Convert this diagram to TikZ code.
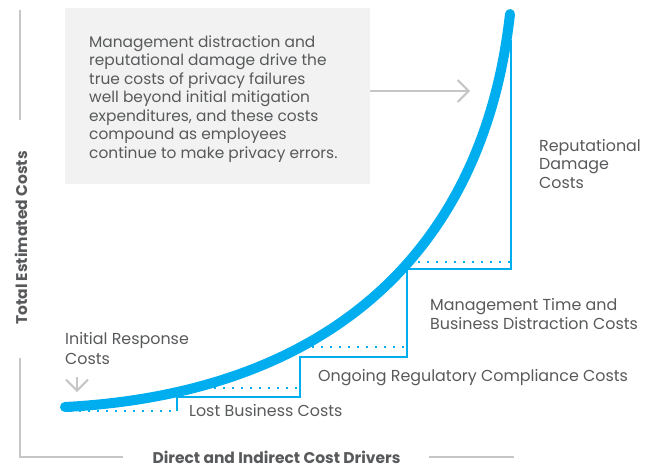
\documentclass[tikz,border=0pt]{standalone}
\usepackage{fontspec}
\setmainfont{Poppins}
\usetikzlibrary{arrows.meta}
\definecolor{costblue}{HTML}{00AEEF}
\definecolor{textgray}{HTML}{58595B}
\definecolor{axisgray}{HTML}{C6C6C6}
\definecolor{boxgray}{HTML}{F2F2F2}

\begin{document}
\begin{tikzpicture}
         [x=1pt,y=-1pt,
          every node/.style={inner sep=0pt,text=textgray,align=left,font=\fontsize{15.9}{19}\selectfont},
          axisline/.style={draw=axisgray,line width=1.5pt},
          stepline/.style={draw=costblue,line width=1.8pt},
          dotline/.style={draw=costblue,line width=2pt,dash pattern=on 2pt off 7pt},
          pointer/.style={draw=axisgray,line width=2pt,-{Straight Barb[length=11pt,width=22pt,line width=2pt]}},
          axislabel/.style={font=\bfseries\fontsize{15.5}{17}\selectfont}]
         \useasboundingbox (0,0) rectangle (652,466);

         % axes
         \draw[axisline] (20,10) -- (20,120);
         \draw[axisline] (20,358) -- (20,457) -- (123,457);
         \draw[axisline] (429,457) -- (514,457);
         \node[axislabel,rotate=90] (nYaxis) at (21,238) {Total Estimated Costs};
         \node[axislabel,anchor=base] (nXaxis) at (276.5,463) {Direct and Indirect Cost Drivers};

         % note box
         \node[fill=boxgray,anchor=north west,minimum width=305pt,minimum height=176pt] (nBox) at (65,8) {};
         \node[anchor=north west,font=\fontsize{15.4}{18.5}\selectfont] (nNote) at (89,35.5)
              {Management distraction and\\reputational damage drive the\\true costs of privacy failures\\well beyond initial mitigation\\expenditures, and these costs\\compound as employees\\continue to make privacy errors.};
         \coordinate (cTip) at (470,91);
         \draw[pointer] (nBox.east |- cTip) -- (cTip);

         % steps
         \draw[stepline] (177,411) -- (177,397) -- (300,397) -- (300,357) -- (407,357) -- (407,269) -- (511,269) -- (511,40);
         \foreach \y/\xa/\xb in {411/70/176,388/205/300,347/312/407,262/418/512}
             \draw[dotline] (\xa,\y) -- (\xb,\y);

         % cost curve
         \draw[costblue,line width=10pt,line cap=round] (65,407) .. controls (315,394) and (482,264) .. (510,14);

         % labels
         \node[anchor=north west,font=\fontsize{15.9}{20}\selectfont] (nInitial) at (65,332) {Initial Response\\Costs};
         \coordinate (cDownTop) at (77,377);
         \coordinate (cDown) at (77,392);
         \draw[pointer] (cDownTop) -- (cDown);
         \node[anchor=base west] (nLost) at (189,416) {Lost Business Costs};
         \node[anchor=base west] (nOngoing) at (318,381) {Ongoing Regulatory Compliance Costs};
         \node[anchor=north west] (nMgmt) at (430,298) {Management Time and\\Business Distraction Costs};
         \node[anchor=north west,font=\fontsize{15.9}{18.5}\selectfont] (nReput) at (539,139) {Reputational\\Damage\\Costs};

     \end{tikzpicture}
\end{document}
